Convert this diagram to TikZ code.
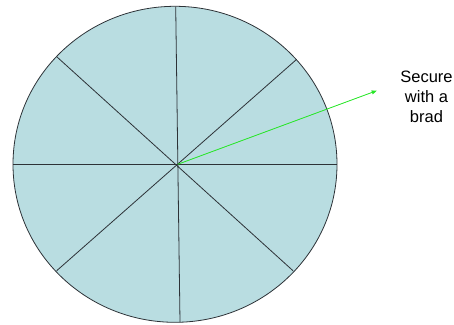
\documentclass[tikz,border=0pt]{standalone}
\usepackage{fontspec}
\setmainfont{Liberation Sans}
\usepackage{xcolor}
\usetikzlibrary{arrows.meta, positioning}

\definecolor{wheelfill}{RGB}{185,221,225}
\definecolor{spokeline}{RGB}{45,50,55}
\definecolor{bradgreen}{RGB}{40,230,40}

\begin{document}
\begin{tikzpicture}[
  x=1pt, y=-1pt,
  wheel/.style={draw=spokeline, fill=wheelfill, line width=0.8pt},
  spoke/.style={draw=spokeline, line width=0.8pt},
  arrow/.style={-{Triangle[length=5pt, width=4pt]}, draw=bradgreen, fill=bradgreen, line width=0.8pt},
  lbl/.style={align=center, font=\fontsize{16.5}{20}\selectfont}
]
\useasboundingbox (0,0) rectangle (454,324);

% Wheel
\draw[wheel] (175,164.3) ellipse (162 and 158);

% Hub and rim points
\coordinate (hub) at (177.7,164.3);
\coordinate (top)    at (175.7,6.7);
\coordinate (bottom) at (180,322);
\coordinate (left)   at (12.7,164.3);
\coordinate (right)  at (337,164.3);
\coordinate (ul)     at (56.7,56.7);
\coordinate (lr)     at (293,270.7);
\coordinate (ur)     at (296.7,59.3);
\coordinate (ll)     at (56.7,270.7);

% Spokes
\draw[spoke] (top) -- (bottom);
\draw[spoke] (left) -- (right);
\draw[spoke] (ul) -- (lr);
\draw[spoke] (ur) -- (ll);

% Label and pointer
\node[lbl] (brad) at (426.5,97) {Secure\\with a\\brad};
\coordinate (tip) at (376.7,90.7);
\draw[arrow] (hub) -- (tip);

\end{tikzpicture}
\end{document}
